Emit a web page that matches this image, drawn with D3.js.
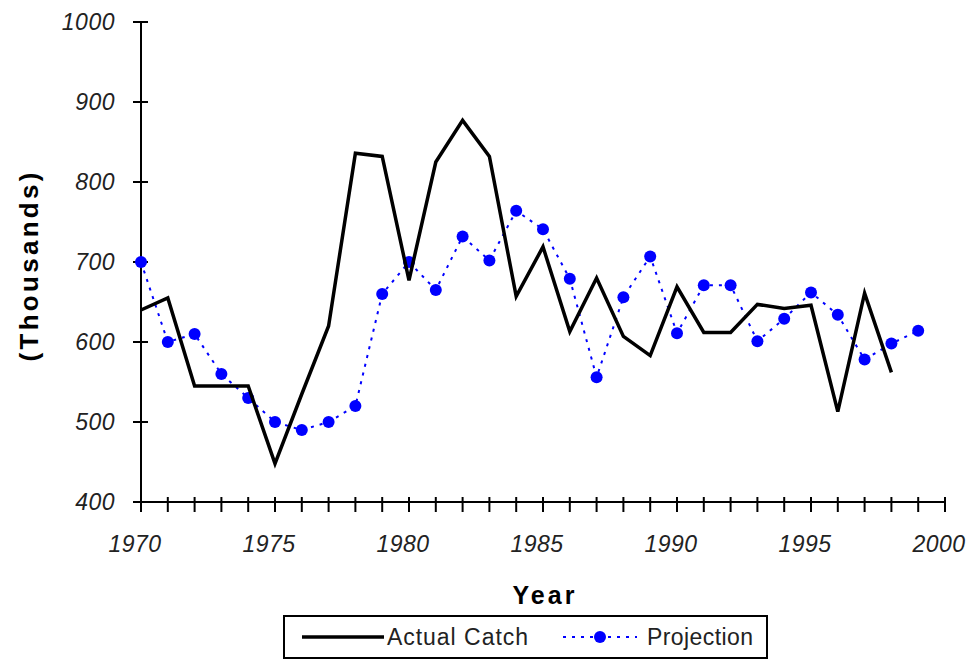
<!DOCTYPE html>
<html lang="en">
<head>
    <meta charset="UTF-8">
    <title>Actual Catch vs Projection</title>
    <style>
        body { margin: 0; background: #fff; }
        svg { display: block; font-family: "Liberation Sans", Arial, sans-serif; }
    </style>
</head>
<body>
    <div id="chart"></div>
    <script src="https://d3js.org/d3.v7.min.js"></script>
    <script>
        // Data (thousands)
        const years = d3.range(1970, 2000);
        const actualYears = d3.range(1970, 1999);
        const actualCatch = [640, 655, 545, 545, 545, 448, 535, 620, 836, 832,
                             677, 825, 877, 832, 657, 719, 613, 680, 607, 583,
                             669, 612, 612, 647, 642, 646, 513, 661, 562];
        const projection = [700, 600, 610, 560, 530, 500, 490, 500, 520, 660,
                            700, 665, 732, 702, 764, 741, 679, 556, 656, 707,
                            611, 671, 671, 601, 629, 662, 634, 578, 598, 614];
        const yTicks = [400, 500, 600, 700, 800, 900, 1000];
        const xLabels = [1970, 1975, 1980, 1985, 1990, 1995, 2000];

        const width = 975, height = 660;
        const svg = d3.select("#chart").append("svg")
            .attr("width", width)
            .attr("height", height);

        const x = d3.scaleLinear().domain([1970, 2000]).range([141, 945]);
        const y = d3.scaleLinear().domain([400, 1000]).range([502, 22]);

        // y axis
        svg.append("line")
            .attr("x1", x(1970)).attr("x2", x(1970))
            .attr("y1", y(1000)).attr("y2", y(400))
            .attr("stroke", "#000").attr("stroke-width", 2);
        svg.selectAll(".ytick").data(yTicks).enter().append("line")
            .attr("x1", x(1970) - 8).attr("x2", x(1970) + 7)
            .attr("y1", d => y(d)).attr("y2", d => y(d))
            .attr("stroke", "#000").attr("stroke-width", 2);
        svg.selectAll(".ylab").data(yTicks).enter().append("text")
            .attr("x", 115).attr("y", d => y(d) + 8)
            .attr("text-anchor", "end")
            .attr("font-size", 23).attr("font-style", "italic")
            .attr("letter-spacing", 0.5)
            .attr("fill", "#222")
            .text(d => d);

        // x axis
        svg.append("line")
            .attr("x1", x(1970)).attr("x2", x(2000))
            .attr("y1", y(400)).attr("y2", y(400))
            .attr("stroke", "#000").attr("stroke-width", 2);
        svg.selectAll(".xtick").data(d3.range(1970, 2001)).enter().append("line")
            .attr("x1", d => x(d)).attr("x2", d => x(d))
            .attr("y1", y(400) - 5).attr("y2", y(400) + 10)
            .attr("stroke", "#000").attr("stroke-width", 2);
        svg.selectAll(".xlab").data(xLabels).enter().append("text")
            .attr("x", d => x(d) - 6).attr("y", 552)
            .attr("text-anchor", "middle")
            .attr("font-size", 23).attr("font-style", "italic")
            .attr("letter-spacing", 0.5)
            .attr("fill", "#222")
            .text(d => d);

        // axis titles
        svg.append("text")
            .attr("transform", "translate(38,267) rotate(-90)")
            .attr("text-anchor", "middle")
            .attr("font-size", 26).attr("font-weight", "bold")
            .attr("textLength", 189).attr("lengthAdjust", "spacing")
            .text("(Thousands)");
        svg.append("text")
            .attr("x", 545).attr("y", 604)
            .attr("text-anchor", "middle")
            .attr("font-size", 25).attr("font-weight", "bold")
            .attr("letter-spacing", 3)
            .text("Year");

        // projection line
        const projLine = d3.line().x((d, i) => x(years[i])).y(d => y(d));
        svg.append("path")
            .attr("d", projLine(projection))
            .attr("fill", "none")
            .attr("stroke", "#0000ff")
            .attr("stroke-width", 2)
            .attr("stroke-dasharray", "3,6");
        svg.selectAll(".pt").data(projection).enter().append("circle")
            .attr("cx", (d, i) => x(years[i]))
            .attr("cy", d => y(d))
            .attr("r", 6)
            .attr("fill", "#0000ff");

        // actual catch line
        const actLine = d3.line().x((d, i) => x(actualYears[i])).y(d => y(d));
        svg.append("path")
            .attr("d", actLine(actualCatch))
            .attr("fill", "none")
            .attr("stroke", "#000")
            .attr("stroke-width", 3.5)
            .attr("stroke-linejoin", "miter");

        // legend
        const lg = svg.append("g");
        lg.append("rect")
            .attr("x", 284).attr("y", 616)
            .attr("width", 483).attr("height", 42)
            .attr("fill", "#fff").attr("stroke", "#000").attr("stroke-width", 2);
        lg.append("line")
            .attr("x1", 302).attr("x2", 384).attr("y1", 637).attr("y2", 637)
            .attr("stroke", "#000").attr("stroke-width", 3.5);
        lg.append("text")
            .attr("x", 387).attr("y", 645)
            .attr("font-size", 23).attr("fill", "#222")
            .attr("textLength", 141).attr("lengthAdjust", "spacing")
            .text("Actual Catch");
        lg.append("line")
            .attr("x1", 563).attr("x2", 637).attr("y1", 637).attr("y2", 637)
            .attr("stroke", "#0000ff").attr("stroke-width", 2)
            .attr("stroke-dasharray", "3,6");
        lg.append("circle")
            .attr("cx", 600).attr("cy", 637).attr("r", 6).attr("fill", "#0000ff");
        lg.append("text")
            .attr("x", 647).attr("y", 645)
            .attr("font-size", 23).attr("fill", "#222")
            .attr("textLength", 106).attr("lengthAdjust", "spacing")
            .text("Projection");
    </script>
</body>
</html>
